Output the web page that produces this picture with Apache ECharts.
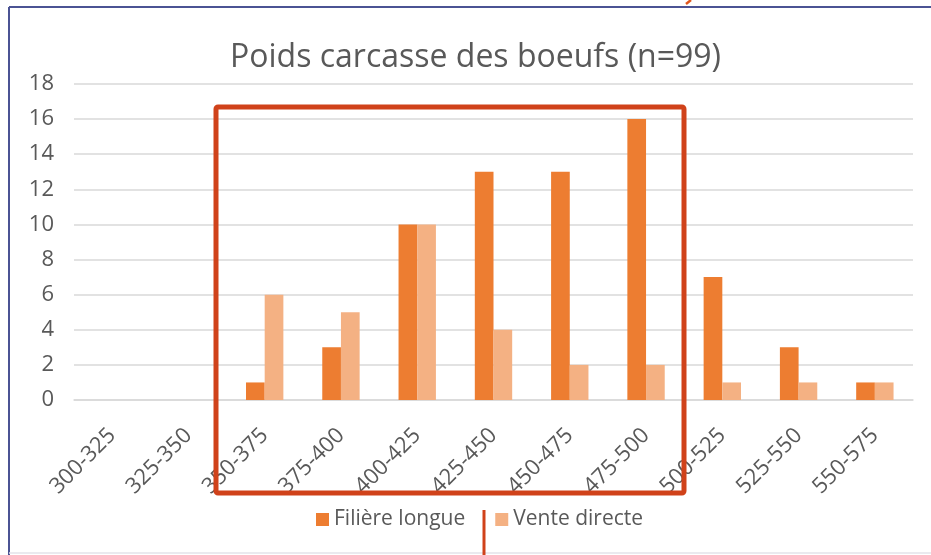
<!DOCTYPE html>
<html>
<head>
<meta charset="utf-8">
<script src="https://cdn.jsdelivr.net/npm/echarts@6/dist/echarts.min.js"></script>
<style>
  html, body { margin: 0; padding: 0; background: #fff; }
  #chart { width: 931px; height: 555px; }
</style>
</head>
<body>
<div id="chart"></div>
<script>
// classes de poids carcasse (kg)
var categories = ['300-325', '325-350', '350-375', '375-400', '400-425', '425-450',
    '450-475', '475-500', '500-525', '525-550', '550-575'];
var filiereLongue = [0, 0, 1, 3, 10, 13, 13, 16, 7, 3, 1];
var venteDirecte = [0, 0, 6, 5, 10, 4, 2, 2, 1, 1, 1];
var yTicks = [0, 2, 4, 6, 8, 10, 12, 14, 16, 18];

var textColor = '#595959';
var font = 'Open Sans';

var chart = echarts.init(document.getElementById('chart'));

var option = {
    backgroundColor: '#ffffff',
    animation: false,
    color: ['#ED7D31', '#F4B183'],
    title: {
        text: 'Poids carcasse des boeufs (n=99)',
        left: 225,
        top: 37,
        textStyle: {
            color: textColor,
            fontSize: 32,
            fontWeight: 'normal',
            fontFamily: font
        }
    },
    legend: {
        top: 504,
        left: 311,
        itemWidth: 13,
        itemHeight: 13,
        itemGap: 30,
        icon: 'rect',
        textStyle: {
            color: textColor,
            fontSize: 21,
            fontFamily: font
        },
        data: ['Filière longue', 'Vente directe']
    },
    grid: {
        left: 74,
        right: 18,
        top: 84,
        bottom: 155,
        containLabel: false
    },
    xAxis: {
        type: 'category',
        data: categories,
        axisLine: {
            lineStyle: { color: '#d9d9d9', width: 1.5 }
        },
        axisTick: { show: false },
        axisLabel: {
            rotate: 45,
            margin: 32,
            color: textColor,
            fontSize: 22,
            fontFamily: font,
            interval: 0
        }
    },
    yAxis: {
        type: 'value',
        min: yTicks[0],
        max: yTicks[yTicks.length - 1],
        interval: 2,
        axisLine: { show: false },
        axisTick: { show: false },
        splitLine: {
            lineStyle: { color: '#d9d9d9', width: 1.5 }
        },
        axisLabel: {
            margin: 20,
            color: textColor,
            fontSize: 22,
            fontFamily: font
        }
    },
    series: [
        {
            name: 'Filière longue',
            type: 'bar',
            data: filiereLongue,
            barGap: '0%',
            barCategoryGap: '51%'
        },
        {
            name: 'Vente directe',
            type: 'bar',
            data: venteDirecte
        }
    ],
    graphic: [
        // cadre du graphique
        { type: 'line', shape: { x1: 9, y1: 7, x2: 931, y2: 7 },
          style: { stroke: '#4b5394', lineWidth: 2 } },
        { type: 'line', shape: { x1: 9, y1: 7, x2: 9, y2: 555 },
          style: { stroke: '#4b5394', lineWidth: 2 } },
        { type: 'line', shape: { x1: 9, y1: 553, x2: 931, y2: 553 },
          style: { stroke: '#e3e3ea', lineWidth: 1.5 } },
        // annotations rouges
        { type: 'rect', shape: { x: 216, y: 107, width: 468, height: 386, r: 2 },
          style: { fill: null, stroke: '#D0421A', lineWidth: 5 }, z: 100 },
        { type: 'line', shape: { x1: 484, y1: 510, x2: 484, y2: 555 },
          style: { stroke: '#D0421A', lineWidth: 3 }, z: 100 },
        { type: 'line', shape: { x1: 686, y1: 4, x2: 691, y2: 0 },
          style: { stroke: '#E0561C', lineWidth: 2.5 }, z: 100 }
    ]
};

chart.setOption(option);
</script>
</body>
</html>
